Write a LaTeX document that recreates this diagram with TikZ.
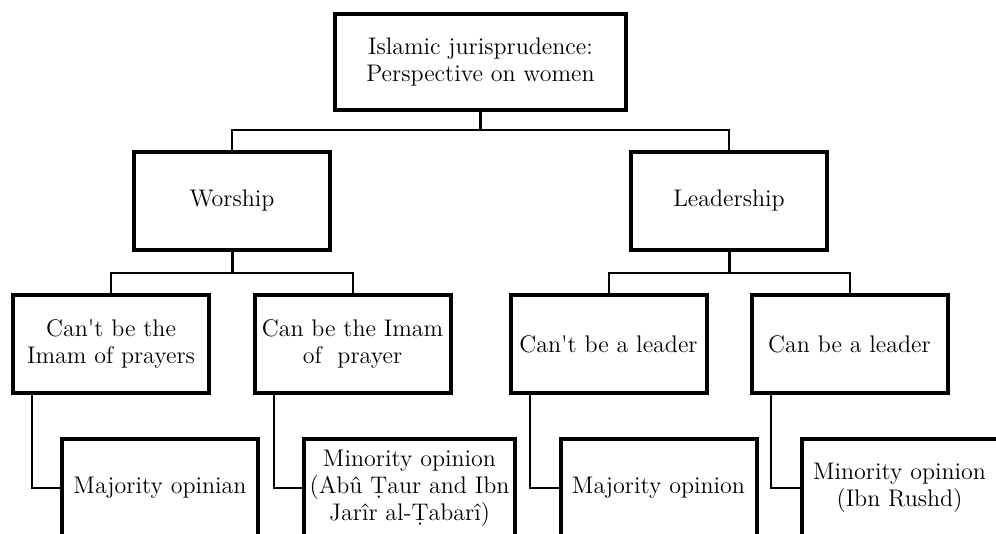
\documentclass[tikz,border=0pt]{standalone}
\usepackage{amsmath}
\usepackage{tikz}

\begin{document}
\begin{tikzpicture}[
    x=0.5pt, y=-0.5pt,
    box style/.style={rectangle, draw=black, line width=2pt, minimum width=98pt, minimum height=49pt, inner sep=1pt, align=center, font=\fontsize{12}{13.5}\selectfont},
    link style/.style={draw=black, line width=1pt},
    stem style/.style={draw=black, line width=1.5pt},
]
    \clip (0,0) rectangle (996,534);

    % Root
    \node[box style, minimum width=145.5pt, minimum height=48pt] (root) at (480.5,62) {Islamic jurisprudence:\\Perspective on women};

    % Second level
    \node[box style] (worship) at (232,201) {Worship};
    \node[box style] (leadership) at (729,201) {Leadership};

    % Third level
    \node[box style] (noimam) at (111,344) {Can\textquotesingle t be the\\Imam of prayers};
    \node[box style] (imam) at (352.5,344) {Can be the Imam\\of~ prayer};
    \node[box style] (noleader) at (608.5,344) {Can\textquotesingle t be a leader};
    \node[box style] (leader) at (849.5,344) {Can be a leader};

    % Opinions
    \node[box style] (majority1) at (160,488) {Majority opinian};
    \node[box style, minimum width=105.5pt] (minority1) at (409.5,488) {Minority opinion\\(Abû Ṭaur and Ibn\\Jarîr al-Ṭabarî)};
    \node[box style] (majority2) at (658.5,488) {Majority opinion};
    \node[box style] (minority2) at (899.5,488) {Minority opinion\\(Ibn Rushd)};

    % Junctions
    \coordinate (top join) at (480.5,130);
    \coordinate (worship join) at (232,273);
    \coordinate (leadership join) at (729,273);

    % Connectors
    \draw[stem style] (root.south) -- (top join);
    \draw[link style] (worship.north) |- (top join) -| (leadership.north);

    \draw[stem style] (worship.south) -- (worship join);
    \draw[link style] (noimam.north) |- (worship join) -| (imam.north);

    \draw[stem style] (leadership.south) -- (leadership join);
    \draw[link style] (noleader.north) |- (leadership join) -| (leader.north);

    \draw[link style] ([xshift=10.5pt]noimam.south west) |- (majority1.west);
    \draw[link style] ([xshift=10.5pt]imam.south west) |- (minority1.west);
    \draw[link style] ([xshift=10.5pt]noleader.south west) |- (majority2.west);
    \draw[link style] ([xshift=10.5pt]leader.south west) |- (minority2.west);

\end{tikzpicture}
\end{document}
